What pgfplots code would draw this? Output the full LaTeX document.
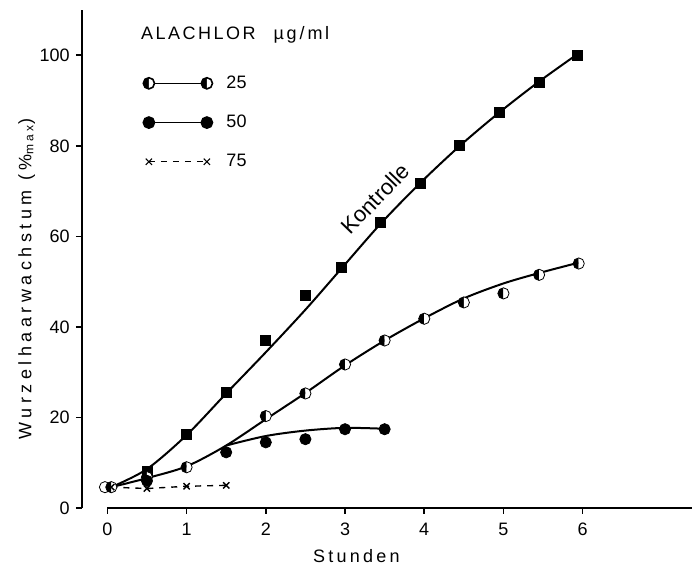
\documentclass[border=0pt]{standalone}
\usepackage{fontspec}
\setmainfont{Liberation Sans}
\usepackage{pgfplots}
\pgfplotsset{compat=1.18}
\usetikzlibrary{plotmarks}

\begin{document}
\fontsize{9}{11}\selectfont
\begin{tikzpicture}
\begin{axis}[
  name=ax,
  scale only axis, width=305pt, height=249pt,
  xmin=-0.32, xmax=7.38, ymin=0, ymax=110,
  axis x line=bottom, axis y line=left,
  axis line style={-, line width=0.9pt},
  x axis line style={shorten <=12.68pt},
  xtick={0,...,6}, ytick={0,20,...,100},
  tick align=outside, major tick length=3pt,
  tick style={line width=0.8pt, black},
  /pgf/number format/assume math mode=true,
  tick label style={font=\fontsize{9}{11}\selectfont},
  xticklabel style={yshift=-1.5pt},
  xlabel={\addfontfeatures{LetterSpace=18}Stunden},
  ylabel={\addfontfeatures{LetterSpace=25}Wurzelhaarwachstum (\%\textsubscript{max})},
  xlabel style={at={(ticklabel cs:0.45)}, yshift=-0.5pt},
  ylabel style={at={(ticklabel cs:0.46)}, yshift=-4pt},
  clip=false,
  legend style={draw=none, fill=none, at={(axis description cs:0.09,0.885)},
    anchor=north west, row sep=8pt, font=\fontsize{9}{11}\selectfont},
  legend cell align=left,
  legend image code/.code={\draw[#1] plot coordinates {(0pt,0pt) (29pt,0pt)};},
]
% legend
\addlegendimage{black, line width=0.8pt, mark=halfcircle*, mark size=2.8pt,
  mark options={solid, rotate=90, fill=black}}
\addlegendentry{\hspace{5pt}25}
\addlegendimage{black, line width=0.8pt, mark=*, mark size=2.8pt}
\addlegendentry{\hspace{5pt}50}
\addlegendimage{black, line width=0.6pt, dashed, mark=x, mark size=2.2pt,
  mark options={solid}}
\addlegendentry{\hspace{5pt}75}

% Kontrolle
\addplot[black, line width=1pt, smooth, forget plot] coordinates {
  (0.05,4.6) (0.5,8.6) (1,16.1) (1.5,25.3) (2,34.4) (2.5,43.8) (2.95,52.8)
  (3.45,62.8) (3.95,71.8) (4.45,80) (4.95,87.4) (5.45,94.2) (5.93,100.2)};
\addplot[only marks, mark=square*, mark size=2.5pt, black, forget plot] coordinates {
  (0.5,8) (1,16.3) (1.5,25.5) (2,37) (2.5,46.9) (2.95,53.1) (3.45,63)
  (3.95,71.8) (4.45,80) (4.95,87.4) (5.45,94.1) (5.93,100)};

% 25 ug/ml
\addplot[black, line width=1pt, smooth, forget plot] coordinates {
  (0.05,4.6) (0.5,6.6) (1,9.2) (1.5,13.8) (2,19.6) (2.5,25.4) (3,31.5)
  (3.5,37) (4,41.9) (4.5,46.3) (5,49.6) (5.45,51.9) (5.95,54.2)};
\addplot[only marks, mark=halfcircle*, mark size=2.8pt, black,
  mark options={rotate=90, fill=black}, forget plot] coordinates {
  (0.05,4.6) (0.5,6.8) (1,9) (2,20.3) (2.5,25.3) (3,31.7) (3.5,37)
  (4,41.8) (4.5,45.4) (5,47.4) (5.45,51.5) (5.95,54)};
\addplot[only marks, mark=o, mark size=2.8pt, black, forget plot] coordinates {
  (-0.03,4.6)};

% 50 ug/ml
\addplot[black, line width=1pt, smooth, forget plot] coordinates {
  (1.5,13.8) (2,15.9) (2.5,17.1) (3,17.7) (3.5,17.5)};
\addplot[only marks, mark=*, mark size=2.8pt, black, forget plot] coordinates {
  (0.5,6) (1.5,12.3) (2,14.5) (2.5,15.2) (3,17.4) (3.5,17.4)};

% 75 ug/ml
\addplot[black, line width=0.7pt, dashed, mark=x, mark size=2.2pt,
  mark options={solid}, forget plot] coordinates {
  (0.05,4.6) (0.5,4.3) (1,4.8) (1.5,5)};

\node[anchor=base west, inner sep=0pt] at (axis cs:0.42,103.5)
  {\addfontfeatures{LetterSpace=14}ALACHLOR\hspace{9pt}µg\,/\,ml};
\node[rotate=46, inner sep=0pt, font=\fontsize{11}{13}\selectfont] at (axis cs:3.38,68.3)
  {Kontrolle};
\end{axis}
\pgfresetboundingbox
\path[use as bounding box] ([shift={(-41pt,-30pt)}]ax.south west)
  rectangle ([shift={(0pt,5pt)}]ax.north east);
\end{tikzpicture}
\end{document}
